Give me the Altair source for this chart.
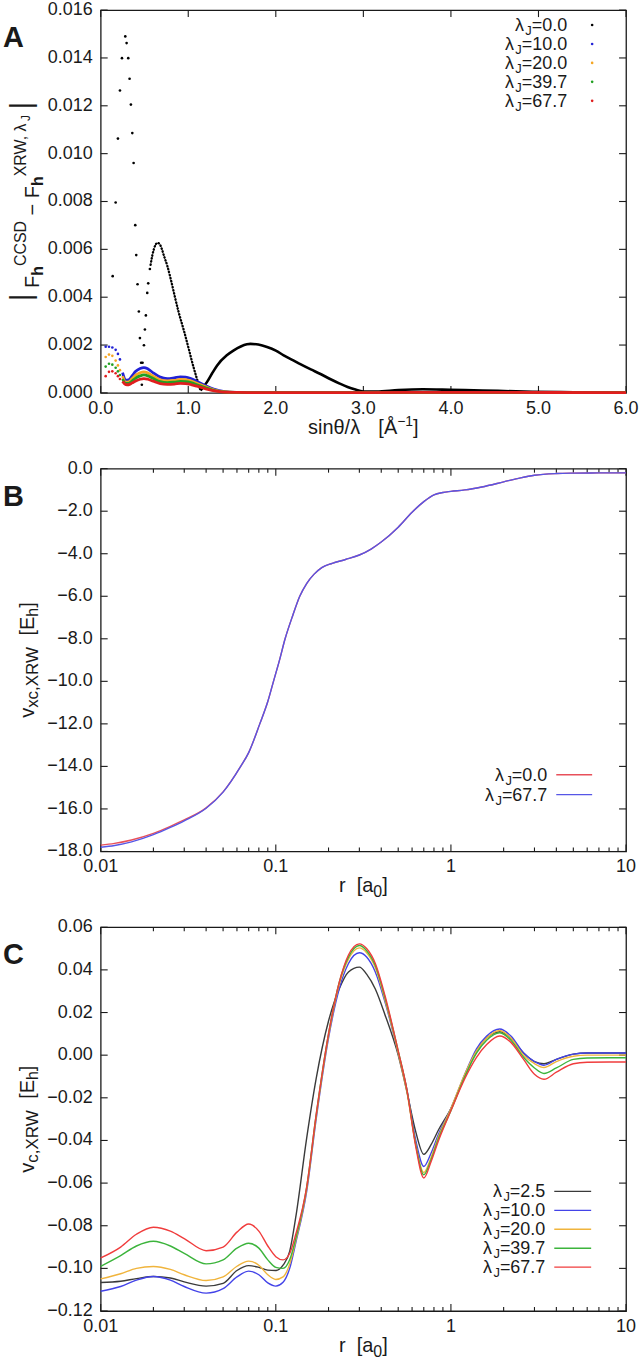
import altair as alt
import pandas as pd

FONT = "Liberation Sans"
INK = "#1a1a1a"

# ---------------- panel A: |F_h(CCSD) - F_h(XRW, lambda_J)| vs sin(theta)/lambda ----------------
A_LAMBDAS = ["0.0", "10.0", "20.0", "39.7", "67.7"]
A_COLORS = ["#000000", "#2222d6", "#f5a623", "#22a022", "#e01e1e"]

# lambda_J = 0.0 : isolated low-order reflections
a0_pts_q = [0.137, 0.171, 0.197, 0.220, 0.243, 0.281, 0.296, 0.315, 0.330, 0.345, 0.361,
            0.376, 0.395, 0.406, 0.421, 0.436, 0.448, 0.462, 0.478, 0.470, 0.494, 0.505,
            0.516, 0.532, 0.543, 0.562]
a0_pts_v = [0.00488, 0.00796, 0.01063, 0.01264, 0.01399, 0.01490, 0.01462, 0.01399, 0.01313,
            0.01205, 0.01086, 0.00961, 0.00701, 0.00576, 0.00454, 0.00340, 0.00229, 0.00126,
            0.00126, 0.00034, 0.00199, 0.00265, 0.00324, 0.00418, 0.00458, 0.00518]
# lambda_J = 0.0 : dense descending branch
a0_trail_q = [0.57, 0.59, 0.607, 0.625, 0.645, 0.665, 0.683, 0.70, 0.721, 0.76, 0.80, 0.835,
              0.89, 0.95, 1.005, 1.06, 1.10, 1.14]
a0_trail_v = [0.00535, 0.00575, 0.00600, 0.00618, 0.00627, 0.00625, 0.00616, 0.00600, 0.00575,
              0.00532, 0.00476, 0.00421, 0.00338, 0.00261, 0.00185, 0.00108, 0.00058, 0.00010]
# lambda_J = 0.0 : high-angle tail
a0_tail_q = [1.14, 1.18, 1.215, 1.27, 1.33, 1.44, 1.52, 1.60, 1.67, 1.71, 1.80, 1.90, 2.00,
             2.09, 2.20, 2.28, 2.40, 2.51, 2.62, 2.73, 2.82, 2.90, 3.00, 3.15, 3.40, 3.68,
             3.99, 4.36, 4.93, 5.40, 6.00]
a0_tail_v = [0.00010, 0.00028, 0.00046, 0.00080, 0.00115, 0.00157, 0.00178, 0.00194, 0.00203,
             0.00205, 0.00202, 0.00192, 0.00177, 0.00157, 0.00136, 0.00120, 0.00098, 0.00079,
             0.00058, 0.00039, 0.00025, 0.00015, 0.00006, 0.00006, 0.00012, 0.00015, 0.00013,
             0.00010, 0.00005, 0.00003, 0.00002]

# lambda_J > 0 : low-order reflections
a_low_q = [0.057, 0.095, 0.133, 0.171, 0.197, 0.220]
a_low = {
    "10.0": [0.00193, 0.00193, 0.00190, 0.00180, 0.00163, 0.00140],
    "20.0": [0.00150, 0.00160, 0.00155, 0.00135, 0.00115, 0.00095],
    "39.7": [0.00110, 0.00122, 0.00118, 0.00105, 0.00090, 0.00075],
    "67.7": [0.00070, 0.00088, 0.00090, 0.00082, 0.00070, 0.00058],
}
# lambda_J > 0 : dense part
a_line_q = [0.25, 0.285, 0.32, 0.36, 0.40, 0.45, 0.494, 0.54, 0.60, 0.68, 0.76, 0.84, 0.91,
            0.97, 1.03, 1.10, 1.20, 1.30, 1.40, 1.55, 1.80, 2.5, 3.5, 4.5, 6.0]
a_line = {
    "10.0": [0.00085, 0.00053, 0.00055, 0.00072, 0.00090, 0.00102, 0.00106, 0.00100, 0.00084,
             0.00066, 0.00060, 0.00063, 0.00067, 0.00066, 0.00060, 0.00048, 0.00030, 0.00015,
             0.00006, 0.00002, 0.00001, 0.00001, 0.00002, 0.00002, 0.00001],
    "20.0": [0.00070, 0.00045, 0.00046, 0.00060, 0.00074, 0.00084, 0.00088, 0.00083, 0.00070,
             0.00055, 0.00050, 0.00052, 0.00056, 0.00055, 0.00050, 0.00040, 0.00025, 0.00012,
             0.00005, 0.00002, 0.00001, 0.00001, 0.00002, 0.00002, 0.00001],
    "39.7": [0.00058, 0.00040, 0.00040, 0.00050, 0.00062, 0.00071, 0.00075, 0.00071, 0.00060,
             0.00047, 0.00043, 0.00045, 0.00048, 0.00047, 0.00043, 0.00034, 0.00021, 0.00010,
             0.00004, 0.00002, 0.00001, 0.00001, 0.00002, 0.00002, 0.00001],
    "67.7": [0.00048, 0.00035, 0.00034, 0.00042, 0.00050, 0.00057, 0.00060, 0.00057, 0.00049,
             0.00039, 0.00036, 0.00037, 0.00040, 0.00039, 0.00035, 0.00028, 0.00017, 0.00008,
             0.00003, 0.00002, 0.00001, 0.00001, 0.00002, 0.00002, 0.00001],
}
A_XTICKS = [0, 1, 2, 3, 4, 5, 6]
A_YTICKS = [0, 0.002, 0.004, 0.006, 0.008, 0.010, 0.012, 0.014, 0.016]

# ---------------- panel B: v_xc,XRW vs r ----------------
B_LAMBDAS = ["0.0", "67.7"]
B_COLORS = ["#e8505a", "#5656e6"]
r_b = [0.01, 0.012, 0.015, 0.02, 0.025, 0.03, 0.04, 0.05, 0.063, 0.07, 0.081, 0.09, 0.097,
       0.105, 0.113, 0.125, 0.137, 0.15, 0.165, 0.183, 0.21, 0.25, 0.3, 0.35, 0.4, 0.5, 0.6,
       0.7, 0.8, 0.9, 1.0, 1.2, 1.5, 2.0, 2.5, 3.0, 4.0, 5.0, 7.0, 10.0]
vxc_b = {
    "0.0": [-17.70, -17.62, -17.46, -17.15, -16.82, -16.52, -15.95, -15.20, -14.00, -13.35,
            -12.00, -10.95, -10.00, -9.00, -8.00, -6.90, -6.00, -5.40, -4.97, -4.65, -4.45,
            -4.27, -4.06, -3.78, -3.45, -2.75, -2.05, -1.55, -1.23, -1.12, -1.07, -1.00, -0.86,
            -0.62, -0.43, -0.31, -0.23, -0.21, -0.20, -0.20],
    "67.7": [-17.80, -17.72, -17.55, -17.21, -16.87, -16.56, -15.97, -15.21, -14.00, -13.35,
             -12.00, -10.95, -10.00, -9.00, -8.00, -6.90, -6.00, -5.40, -4.97, -4.65, -4.45,
             -4.27, -4.06, -3.78, -3.45, -2.75, -2.05, -1.55, -1.23, -1.12, -1.07, -1.00, -0.86,
             -0.62, -0.43, -0.31, -0.23, -0.21, -0.20, -0.20],
}
B_YTICKS = [-18, -16, -14, -12, -10, -8, -6, -4, -2, 0]

# ---------------- panel C: v_c,XRW vs r ----------------
C_LAMBDAS = ["2.5", "10.0", "20.0", "39.7", "67.7"]
C_COLORS = ["#3a3a3a", "#4343e8", "#f0b43c", "#3cb43c", "#f03c3c"]
r_c = [0.01, 0.013, 0.016, 0.02, 0.025, 0.03, 0.04, 0.05, 0.06, 0.07, 0.08, 0.09, 0.1, 0.11,
       0.12, 0.13, 0.15, 0.17, 0.2, 0.23, 0.26, 0.3, 0.33, 0.37, 0.42, 0.5, 0.56, 0.63, 0.7,
       0.77, 0.85, 1.0, 1.2, 1.4, 1.6, 1.9, 2.2, 2.6, 3.0, 3.4, 4.0, 5.0, 6.0, 8.0, 10.0]
vc_c = {
    "2.5": [-0.1066, -0.1060, -0.1048, -0.1038, -0.1045, -0.1063, -0.1083, -0.1070, -0.1010,
            -0.0987, -0.0995, -0.1008, -0.1010, -0.0985, -0.0920, -0.0760, -0.0390, -0.0110,
            0.0160, 0.0310, 0.0390, 0.0413, 0.0380, 0.0310, 0.0190, 0.0000, -0.0170, -0.0360,
            -0.0465, -0.0420, -0.0350, -0.0250, -0.0100, 0.0020, 0.0080, 0.0110, 0.0080,
            0.0010, -0.0030, -0.0040, -0.0020, 0.0005, 0.0010, 0.0010, 0.0010],
    "10.0": [-0.1107, -0.1085, -0.1055, -0.1038, -0.1055, -0.1085, -0.1116, -0.1095, -0.1040,
             -0.1013, -0.1030, -0.1068, -0.1083, -0.1065, -0.1000, -0.0880, -0.0640, -0.0300,
             0.0080, 0.0310, 0.0430, 0.0480, 0.0460, 0.0390, 0.0250, 0.0010, -0.0160, -0.0400,
             -0.0522, -0.0460, -0.0370, -0.0250, -0.0090, 0.0030, 0.0090, 0.0123, 0.0090,
             0.0010, -0.0030, -0.0047, -0.0020, 0.0005, 0.0010, 0.0010, 0.0010],
    "20.0": [-0.1049, -0.1025, -0.1000, -0.0991, -0.1005, -0.1030, -0.1057, -0.1040, -0.0990,
             -0.0966, -0.0985, -0.1030, -0.1052, -0.1040, -0.0980, -0.0870, -0.0630, -0.0290,
             0.0090, 0.0330, 0.0450, 0.0503, 0.0480, 0.0410, 0.0260, 0.0010, -0.0170, -0.0420,
             -0.0550, -0.0480, -0.0380, -0.0250, -0.0090, 0.0020, 0.0080, 0.0116, 0.0080,
             0.0000, -0.0040, -0.0058, -0.0030, -0.0005, 0.0000, 0.0000, 0.0000],
    "39.7": [-0.0990, -0.0940, -0.0895, -0.0873, -0.0895, -0.0930, -0.0979, -0.0960, -0.0905,
             -0.0882, -0.0905, -0.0960, -0.0995, -0.1000, -0.0960, -0.0860, -0.0620, -0.0280,
             0.0100, 0.0340, 0.0460, 0.0514, 0.0490, 0.0420, 0.0270, 0.0020, -0.0160, -0.0420,
             -0.0561, -0.0490, -0.0390, -0.0260, -0.0100, 0.0010, 0.0070, 0.0105, 0.0070,
             -0.0010, -0.0060, -0.0086, -0.0060, -0.0020, -0.0013, -0.0012, -0.0012],
    "67.7": [-0.0951, -0.0900, -0.0840, -0.0807, -0.0825, -0.0860, -0.0917, -0.0900, -0.0830,
             -0.0792, -0.0825, -0.0895, -0.0945, -0.0960, -0.0930, -0.0840, -0.0620, -0.0280,
             0.0100, 0.0340, 0.0470, 0.0522, 0.0500, 0.0430, 0.0280, 0.0020, -0.0160, -0.0430,
             -0.0576, -0.0500, -0.0400, -0.0260, -0.0110, -0.0010, 0.0050, 0.0090, 0.0060,
             -0.0020, -0.0090, -0.0113, -0.0080, -0.0040, -0.0033, -0.0032, -0.0032],
}
C_YTICKS = [-0.12, -0.10, -0.08, -0.06, -0.04, -0.02, 0.0, 0.02, 0.04, 0.06]

LOG_MAJOR = [0.01, 0.1, 1, 10]
LOG_MINOR = [m * d for d in (0.01, 0.1, 1) for m in range(2, 10)]

# ---------------- layout constants ----------------
W = 527
HA, HB, HC = 384, 384, 385
TICK, MINOR = 7, 4
TICK_FS = 18
TITLE_FS, SUB_FS = 20, 16

# advance widths (em) of the glyphs used, Liberation Sans metrics
ADV = {" ": .278, ",": .278, ".": .278, "/": .278, "=": .584, "−": .584, "|": .26,
       "[": .278, "]": .278, "A": .667, "C": .722, "D": .722, "E": .667, "F": .611,
       "J": .5, "R": .722, "S": .667, "W": .944, "X": .667, "Å": .667, "a": .556,
       "c": .5, "h": .556, "i": .222, "n": .556, "r": .333, "s": .5, "v": .5, "x": .5,
       "θ": .556, "λ": .58}
for d in "0123456789":
    ADV[d] = .556
ADV_BOLD = {"h": .611}

ONE = pd.DataFrame({"k": [0]})


def adv(s, size, bold=False):
    table = ADV_BOLD if bold else ADV
    return sum(table.get(ch, ADV.get(ch, .556)) for ch in s) * size


def width_of(pieces):
    return sum(adv(t, s, b) for t, s, _, b in pieces)


def label(txt, x, y, size, bold=False, angle=0, color=INK):
    return alt.Chart(ONE).mark_text(
        text=txt, font=FONT, fontSize=size, fontWeight="bold" if bold else "normal",
        align="left", baseline="alphabetic", angle=angle, color=color,
    ).encode(x=alt.value(x), y=alt.value(y))


def rich_h(pieces, x0, y0):
    """Left-to-right text runs with baseline shifts (sub/superscripts)."""
    out, x = [], x0
    for txt, size, shift, bold in pieces:
        if txt.strip():
            out.append(label(txt, x, y0 + shift, size, bold))
        x += adv(txt, size, bold)
    return out


def rich_v(pieces, x0, y0):
    """Bottom-to-top text runs (rotated 270 degrees); positive shift moves below the baseline."""
    out, y = [], y0
    for txt, size, shift, bold in pieces:
        if txt.strip():
            out.append(label(txt, x0 + shift, y, size, bold, angle=270))
        y -= adv(txt, size, bold)
    return out


def x_title(pieces, H):
    w = width_of(pieces)
    return rich_h(pieces, W / 2 - w / 2, H + 41)


def y_title(pieces, H, x0):
    w = width_of(pieces)
    return rich_v(pieces, x0, H / 2 + w / 2)


def letter(ch):
    return label(ch, -98, 37, 29, bold=True)


def frame_ticks(xs, ys, xvals, yvals, H, xfmt, yfmt, xminor=None):
    """Inward ticks on all four sides plus the numeric tick labels."""
    out = []
    sets = [(xvals, TICK)] + ([(xminor, MINOR)] if xminor else [])
    for vals, L in sets:
        c = alt.Chart(pd.DataFrame({"t": vals})).mark_rule(color=INK, strokeWidth=1.1)
        xe = alt.X("t:Q", scale=xs, axis=None)
        out.append(c.encode(x=xe, y=alt.value(H), y2=alt.value(H - L)))
        out.append(c.encode(x=xe, y=alt.value(0), y2=alt.value(L)))
    c = alt.Chart(pd.DataFrame({"t": yvals})).mark_rule(color=INK, strokeWidth=1.1)
    ye = alt.Y("t:Q", scale=ys, axis=None)
    out.append(c.encode(y=ye, x=alt.value(0), x2=alt.value(TICK)))
    out.append(c.encode(y=ye, x=alt.value(W), x2=alt.value(W - TICK)))
    # tick labels
    out.append(alt.Chart(pd.DataFrame({"t": xvals})).mark_text(
        font=FONT, fontSize=TICK_FS, color=INK, align="center", baseline="alphabetic"
    ).encode(x=alt.X("t:Q", scale=xs, axis=None), y=alt.value(H + 21),
             text=alt.Text("t:Q", format=xfmt)))
    out.append(alt.Chart(pd.DataFrame({"t": yvals})).mark_text(
        font=FONT, fontSize=TICK_FS, color=INK, align="right", baseline="middle"
    ).encode(y=alt.Y("t:Q", scale=ys, axis=None), x=alt.value(-8),
             text=alt.Text("t:Q", format=yfmt)))
    return out


def legend_rows(lams, colors, yc0, text_right, kind, sx0, sx1, step=19):
    out = []
    for i, (lam, col) in enumerate(zip(lams, colors)):
        yc = yc0 + i * step
        pieces = [("λ", 18, 0, False), ("J", 13, 4, False), ("=" + lam, 18, 0, False)]
        out += rich_h(pieces, text_right - width_of(pieces), yc + 6)
        if kind == "dot":
            out.append(alt.Chart(ONE).mark_circle(size=7, color=col, opacity=1)
                       .encode(x=alt.value(sx0), y=alt.value(yc)))
        else:
            out.append(alt.Chart(ONE).mark_rule(color=col, strokeWidth=1.4)
                       .encode(x=alt.value(sx0), x2=alt.value(sx1), y=alt.value(yc)))
    return out


# ---------------- panel A ----------------
xsA = alt.Scale(domain=[0, 6], nice=False, zero=False)
ysA = alt.Scale(domain=[0, 0.016], nice=False)


def enc_A():
    return dict(x=alt.X("q:Q", scale=xsA, axis=None), y=alt.Y("v:Q", scale=ysA, axis=None))


layers_A = frame_ticks(xsA, ysA, A_XTICKS, A_YTICKS, HA, ".1f", ".3f")
df = pd.DataFrame({"q": a0_pts_q, "v": a0_pts_v})
layers_A.append(alt.Chart(df).mark_circle(size=7, color=A_COLORS[0], opacity=1).encode(**enc_A()))
df = pd.DataFrame({"q": a0_trail_q, "v": a0_trail_v})
layers_A.append(alt.Chart(df).mark_line(color=A_COLORS[0], strokeWidth=2.3, strokeDash=[0.5, 2.6],
                                        strokeCap="round", interpolate="monotone").encode(**enc_A()))
df = pd.DataFrame({"q": a0_tail_q, "v": a0_tail_v})
layers_A.append(alt.Chart(df).mark_line(color=A_COLORS[0], strokeWidth=2.6,
                                        interpolate="monotone").encode(**enc_A()))
for lam, col in zip(A_LAMBDAS[1:], A_COLORS[1:]):
    df = pd.DataFrame({"q": a_low_q, "v": a_low[lam]})
    layers_A.append(alt.Chart(df).mark_circle(size=7, color=col, opacity=1).encode(**enc_A()))
    df = pd.DataFrame({"q": a_line_q, "v": a_line[lam]})
    layers_A.append(alt.Chart(df).mark_line(color=col, strokeWidth=2.8,
                                            interpolate="monotone").encode(**enc_A()))
layers_A += legend_rows(A_LAMBDAS, A_COLORS, 15, 468, "dot", 493, None)
layers_A += y_title([("|", 30, -8, False), (" ", 20, 0, False), ("F", 20, 0, False),
                     ("h", SUB_FS, 4, True), ("CCSD", SUB_FS, -13, False), (" ", 20, 0, False),
                     ("−", 20, 0, False), (" ", 20, 0, False), ("F", 20, 0, False),
                     ("h", SUB_FS, 4, True), ("XRW, λ", SUB_FS, -13, False), ("J", 12, -9, False),
                     (" ", 20, 0, False), ("|", 30, -8, False)], HA, -62)
layers_A += x_title([("sinθ/λ", TITLE_FS, 0, False), ("   ", TITLE_FS, 0, False),
                     ("[Å", TITLE_FS, 0, False), ("−1", 14, -8, False), ("]", TITLE_FS, 0, False)], HA)
layers_A.append(letter("A"))
panel_A = alt.layer(*layers_A).properties(width=W, height=HA)

# ---------------- panel B ----------------
xsB = alt.Scale(type="log", domain=[0.01, 10], nice=False)
ysB = alt.Scale(domain=[-18, 0], nice=False, zero=False)

layers_B = frame_ticks(xsB, ysB, LOG_MAJOR, B_YTICKS, HB, "~g", ".1f", LOG_MINOR)
for lam, col in zip(B_LAMBDAS, B_COLORS):
    df = pd.DataFrame({"r": r_b, "v": vxc_b[lam]})
    layers_B.append(alt.Chart(df).mark_line(color=col, strokeWidth=1.4, interpolate="monotone").encode(
        x=alt.X("r:Q", scale=xsB, axis=None), y=alt.Y("v:Q", scale=ysB, axis=None)))
layers_B += legend_rows(B_LAMBDAS, B_COLORS, 307, 448, "line", 457, 493, step=20)
layers_B += y_title([("v", TITLE_FS, 0, False), ("xc,XRW", 17, 4, False), ("  ", TITLE_FS, 0, False),
                     ("[E", TITLE_FS, 0, False), ("h", SUB_FS, 4, False), ("]", TITLE_FS, 0, False)],
                    HB, -67)
layers_B += x_title([("r", TITLE_FS, 0, False), ("  ", TITLE_FS, 0, False), ("[a", TITLE_FS, 0, False),
                     ("0", SUB_FS, 5, False), ("]", TITLE_FS, 0, False)], HB)
layers_B.append(letter("B"))
panel_B = alt.layer(*layers_B).properties(width=W, height=HB)

# ---------------- panel C ----------------
xsC = alt.Scale(type="log", domain=[0.01, 10], nice=False)
ysC = alt.Scale(domain=[-0.12, 0.06], nice=False, zero=False)

layers_C = frame_ticks(xsC, ysC, LOG_MAJOR, C_YTICKS, HC, "~g", ".2f", LOG_MINOR)
for lam, col in zip(C_LAMBDAS, C_COLORS):
    df = pd.DataFrame({"r": r_c, "v": vc_c[lam]})
    layers_C.append(alt.Chart(df).mark_line(color=col, strokeWidth=1.4, interpolate="monotone").encode(
        x=alt.X("r:Q", scale=xsC, axis=None), y=alt.Y("v:Q", scale=ysC, axis=None)))
layers_C += legend_rows(C_LAMBDAS, C_COLORS, 265, 446, "line", 455, 492)
layers_C += y_title([("v", TITLE_FS, 0, False), ("c,XRW", 17, 4, False), ("  ", TITLE_FS, 0, False),
                     ("[E", TITLE_FS, 0, False), ("h", SUB_FS, 4, False), ("]", TITLE_FS, 0, False)],
                    HC, -67)
layers_C += x_title([("r", TITLE_FS, 0, False), ("  ", TITLE_FS, 0, False), ("[a", TITLE_FS, 0, False),
                     ("0", SUB_FS, 5, False), ("]", TITLE_FS, 0, False)], HC)
layers_C.append(letter("C"))
panel_C = alt.layer(*layers_C).properties(width=W, height=HC)

chart = alt.VConcatChart(
    vconcat=[panel_A, panel_B, panel_C],
    spacing=76,
    bounds="flush",
    padding={"left": 2, "top": -2, "right": 0, "bottom": 0},
).configure_view(stroke=INK, strokeWidth=1.3)

chart.save("out.html", embed_options={"renderer": "svg", "actions": False})
